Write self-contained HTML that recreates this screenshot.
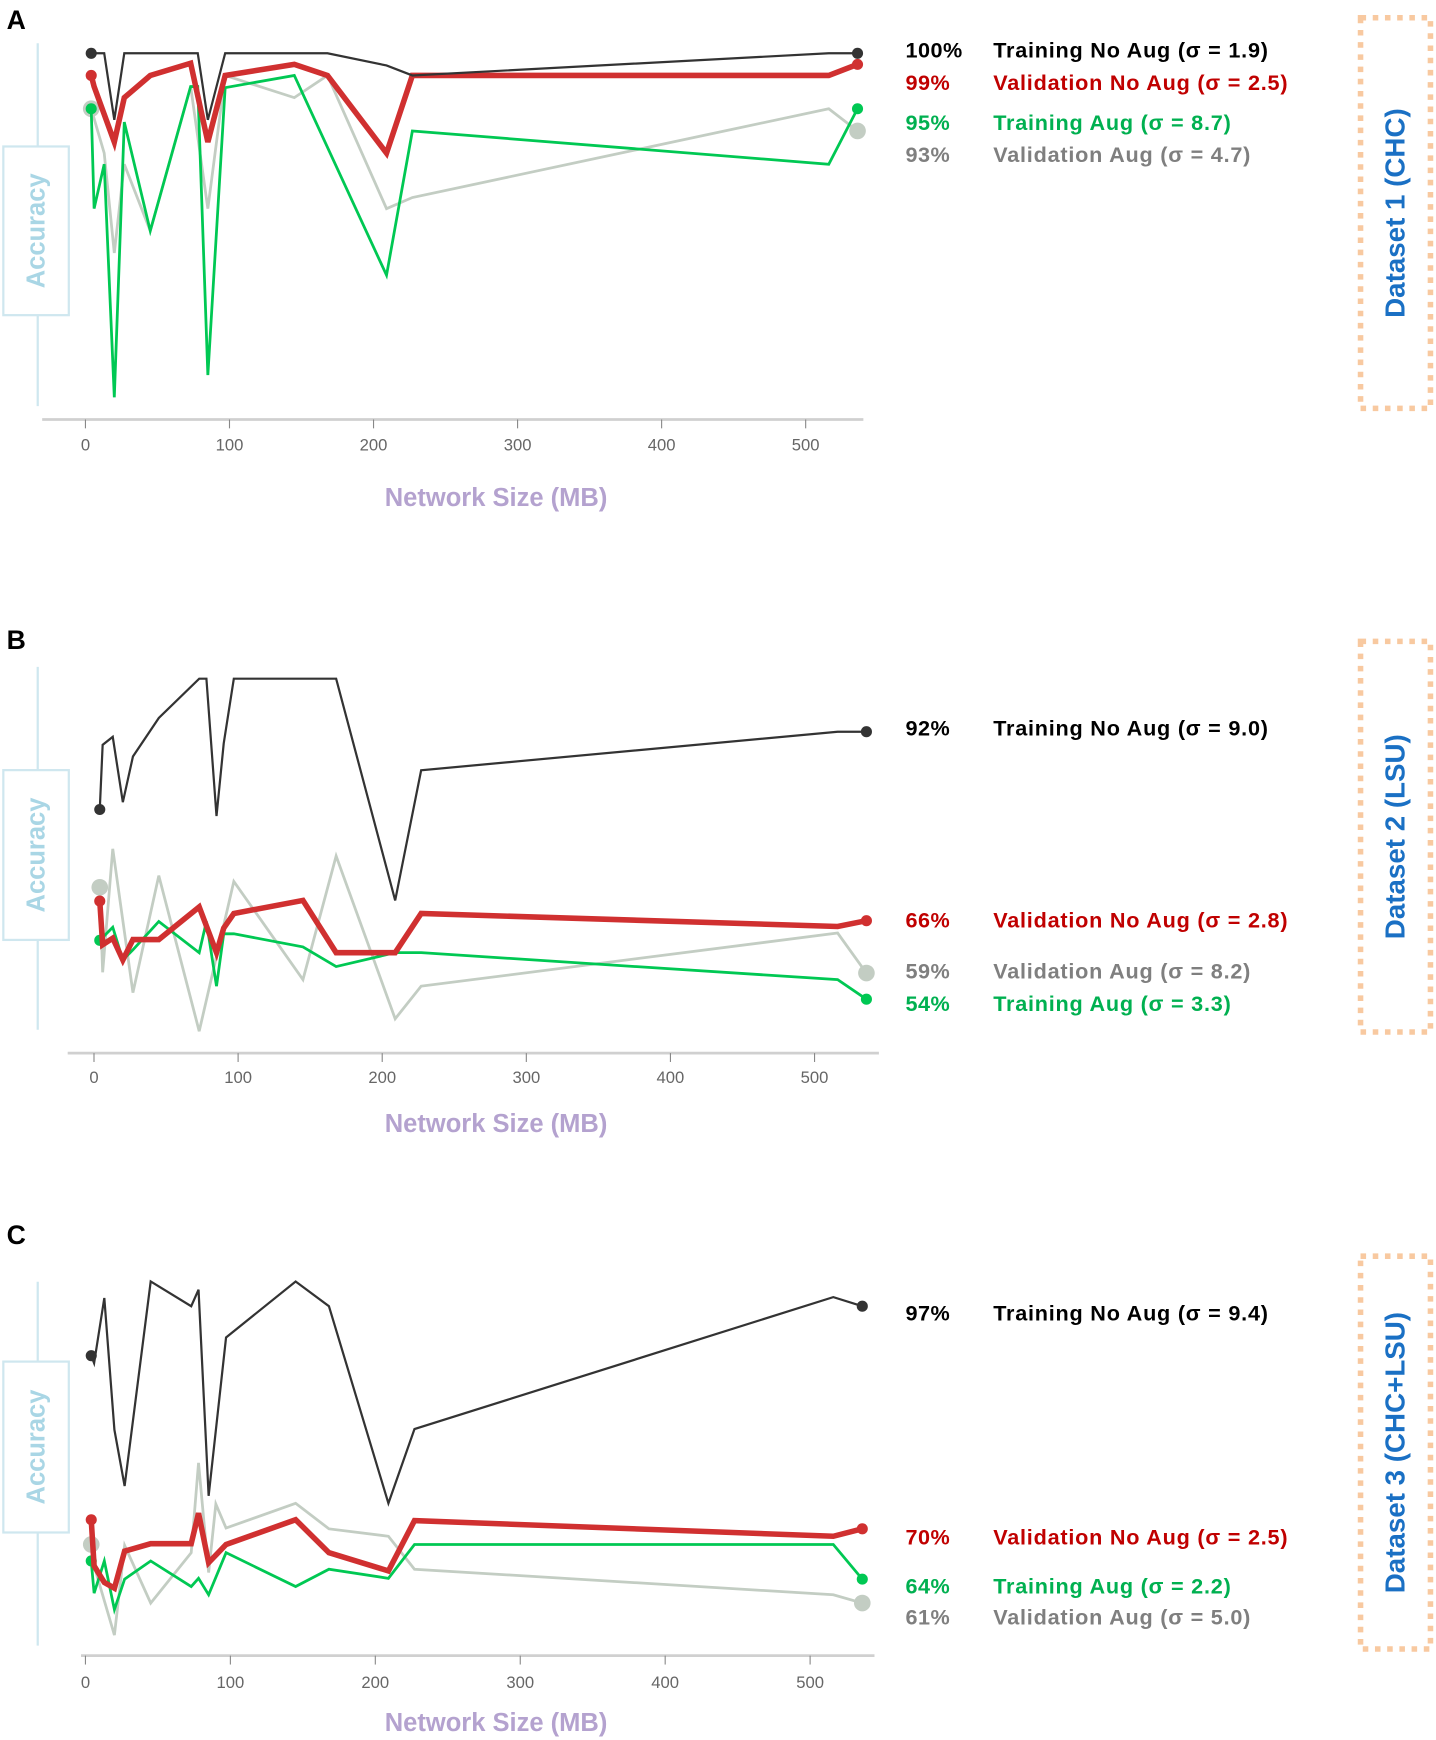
<!DOCTYPE html>
<html><head><meta charset="utf-8"><style>
html,body{margin:0;padding:0;background:#fff;}
svg{display:block;}
text{font-family:"Liberation Sans",sans-serif;}
</style></head><body>
<svg id="fig" width="1436" height="1740" viewBox="0 0 1294 1568" preserveAspectRatio="none" xmlns="http://www.w3.org/2000/svg"></svg>
<script>
// ---- data (MB sizes and accuracy %) ----
const xTicks = [0, 100, 200, 300, 400, 500];
const panelLetters = ["A", "B", "C"];
const datasetNames = ["Dataset 1 (CHC)", "Dataset 2 (LSU)", "Dataset 3 (CHC+LSU)"];
const seriesNames = ["Training No Aug", "Validation No Aug", "Training Aug", "Validation Aug"];
const sigmaA = ["1.9", "2.5", "8.7", "4.7"];
const sigmaB = ["9.0", "2.8", "3.3", "8.2"];
const sigmaC = ["9.4", "2.5", "2.2", "5.0"];
const finalA = [100, 99, 95, 93];
const finalB = [92, 66, 54, 59];
const finalC = [97, 70, 64, 61];

// Panel A
const A_trainNoAug_x = [4, 13, 20, 27, 78, 85, 97, 168, 209, 227, 516, 536];
const A_trainNoAug_y = [100, 100, 94, 100, 100, 94, 100, 100, 98.9, 98, 100, 100];
const A_valNoAug_x = [4, 6, 20, 27, 45, 73, 85, 97, 145, 168, 209, 227, 516, 536];
const A_valNoAug_y = [98, 97, 92, 96, 98, 99.1, 92, 98, 99, 98, 91, 98, 98, 99];
const A_trainAug_x = [4, 6, 13, 20, 27, 45, 73, 78, 85, 97, 145, 209, 227, 516, 536];
const A_trainAug_y = [95, 86, 90, 69, 93.8, 84, 97, 97, 71, 96.9, 98, 80, 93, 90, 95];
const A_valAug_x = [4, 13, 20, 27, 45, 73, 85, 97, 145, 168, 209, 227, 516, 536];
const A_valAug_y = [95, 91, 82, 90, 84, 97, 86, 98, 96, 98, 86, 87, 95, 93];

// Panel B
const B_trainNoAug_x = [4, 6, 13, 20, 27, 45, 73, 78, 85, 90, 97, 168, 209, 227, 516, 536];
const B_trainNoAug_y = [81.3, 90.2, 91.3, 82.3, 88.6, 93.9, 99.3, 99.3, 80.4, 90.4, 99.3, 99.3, 68.8, 86.7, 92, 92];
const B_valNoAug_x = [4, 6, 13, 20, 27, 45, 73, 85, 90, 97, 145, 168, 209, 227, 516, 536];
const B_valNoAug_y = [68.7, 62.7, 63.6, 60.6, 63.4, 63.4, 67.9, 61.6, 65, 67, 68.8, 61.6, 61.6, 67, 65.2, 66];
const B_trainAug_x = [4, 13, 20, 27, 45, 73, 78, 85, 90, 97, 145, 168, 209, 227, 516, 536];
const B_trainAug_y = [63.3, 65.1, 60.6, 62, 65.9, 61.6, 65.9, 57, 64.2, 64.2, 62.4, 59.7, 61.6, 61.6, 57.9, 55.2];
const B_valAug_x = [4, 6, 13, 27, 45, 73, 97, 145, 168, 209, 227, 516, 536];
const B_valAug_y = [70.6, 58.9, 75.9, 56.1, 72.2, 50.8, 71.4, 57.9, 74.9, 52.5, 57, 64.3, 58.8];

// Panel C
const C_trainNoAug_x = [4, 6, 13, 20, 27, 45, 73, 78, 85, 97, 145, 168, 209, 227, 516, 536];
const C_trainNoAug_y = [91, 90.1, 98, 82, 75.2, 100, 97, 99, 74, 93.2, 100, 97, 73.1, 82.1, 98.1, 97];
const C_valNoAug_x = [4, 6, 13, 20, 27, 45, 73, 78, 85, 97, 145, 168, 209, 227, 516, 536];
const C_valNoAug_y = [71.1, 65.5, 63.5, 62.8, 67.3, 68.2, 68.2, 71.9, 65.9, 68.1, 71.1, 67.1, 64.9, 71, 69.1, 70];
const C_trainAug_x = [4, 6, 13, 20, 27, 45, 73, 78, 85, 97, 145, 168, 209, 227, 516, 536];
const C_trainAug_y = [66.1, 62.2, 66.1, 60.2, 63.9, 66.1, 63, 64, 62, 67.1, 63, 65.1, 64, 68.1, 68.1, 63.9];
const C_valAug_x = [4, 6, 20, 27, 45, 73, 78, 85, 90, 97, 145, 168, 209, 227, 516, 536];
const C_valAug_y = [68.1, 65.5, 57.1, 68, 61, 67.1, 78, 64.7, 73, 70.1, 73.1, 70, 69.1, 65.1, 62, 61];

const NS = "http://www.w3.org/2000/svg";
const svg = document.getElementById("fig");
function mk(tag, attrs, parent) {
  const e = document.createElementNS(NS, tag);
  for (const k in attrs) e.setAttribute(k, attrs[k]);
  (parent || svg).appendChild(e);
  return e;
}
const colors = ["#333333", "#d03030", "#00c853", "#c3cdc3"];
const widths = [2, 5, 2.5, 2.5];
const dotR = [5, 5, 5, 7.5];
const legendColors = ["#000000", "#c00000", "#00b050", "#7f7f7f"];

const panels = [
  {x0: 77, k: 1.298, yRef: 48, vRef: 100, ppv: 10, axisY: 378, axL: 38, axR: 778, vTop: 39, vBot: 366, boxT: 132, boxB: 284,
   tickLblY: 406, titleY: 456, letterY: 26, dsT: 16, dsB: 368, legY: [52, 81, 117, 146], sig: sigmaA, fin: finalA,
   series: [[A_trainNoAug_x, A_trainNoAug_y], [A_valNoAug_x, A_valNoAug_y], [A_trainAug_x, A_trainAug_y], [A_valAug_x, A_valAug_y]]},
  {x0: 84.7, k: 1.2986, yRef: 829.7, vRef: 66, ppv: 6.55, axisY: 949, axL: 61, axR: 792, vTop: 601, vBot: 928, boxT: 694, boxB: 847,
   tickLblY: 976, titleY: 1020, letterY: 585, dsT: 578, dsB: 930, legY: [663, 836, 882, 911], sig: sigmaB, fin: finalB,
   series: [[B_trainNoAug_x, B_trainNoAug_y], [B_valNoAug_x, B_valNoAug_y], [B_trainAug_x, B_trainAug_y], [B_valAug_x, B_valAug_y]]},
  {x0: 77, k: 1.306, yRef: 1377.7, vRef: 70, ppv: 7.43, axisY: 1492, axL: 73, axR: 788, vTop: 1155, vBot: 1483, boxT: 1227, boxB: 1381,
   tickLblY: 1521, titleY: 1560, letterY: 1121, dsT: 1132, dsB: 1486, legY: [1190, 1392, 1436, 1464], sig: sigmaC, fin: finalC,
   series: [[C_trainNoAug_x, C_trainNoAug_y], [C_valNoAug_x, C_valNoAug_y], [C_trainAug_x, C_trainAug_y], [C_valAug_x, C_valAug_y]]}
];
const legendOrder = [[0, 1, 2, 3], [0, 1, 3, 2], [0, 1, 2, 3]];

panels.forEach((p, pi) => {
  const g = mk("g", {});
  
  
  const sx = v => p.x0 + v * p.k;
  const sy = v => p.yRef + (p.vRef - v) * p.ppv;

  const lt = mk("text", {x: 6, y: p.letterY, "font-size": 24, "font-weight": "bold", fill: "#000"}, g);
  lt.textContent = panelLetters[pi];
  
  

  const yl = mk("line", {x1: 34, x2: 34, y1: p.vTop, y2: p.vBot, stroke: "#cfe7ef", "stroke-width": 2}, g);
  
  
  const bx = mk("rect", {x: 3, y: p.boxT, width: 59, height: p.boxB - p.boxT, fill: "#fff", stroke: "#cfe7ef", "stroke-width": 2}, g);
  
  
  const cy = (p.boxT + p.boxB) / 2;
  const yt = mk("text", {x: 33, y: cy, transform: `rotate(-90 33 ${cy})`, "text-anchor": "middle", "dominant-baseline": "central", "font-size": 23, "font-weight": "bold", fill: "#a9d6e5"}, g);
  yt.textContent = "Accuracy";
  
  

  const xa = mk("line", {x1: p.axL, x2: p.axR, y1: p.axisY, y2: p.axisY, stroke: "#d0d0d0", "stroke-width": 2.5}, g);
  
  
  xTicks.forEach(t => {
    const tk = mk("line", {x1: sx(t), x2: sx(t), y1: p.axisY, y2: p.axisY + 8, stroke: "#888", "stroke-width": 1}, g);
    
    
    const tl = mk("text", {x: sx(t), y: p.tickLblY, "text-anchor": "middle", "font-size": 15, fill: "#666"}, g);
    tl.textContent = t;
    
    
  });
  const xt = mk("text", {x: 447, y: p.titleY, "text-anchor": "middle", "font-size": 23, "font-weight": "bold", fill: "#b4a2cf"}, g);
  xt.textContent = "Network Size (MB)";
  
  

  [3, 2, 1, 0].forEach(si => {
    const xs = p.series[si][0], ys = p.series[si][1];
    const pts = xs.map((x, i) => sx(x).toFixed(1) + "," + sy(ys[i]).toFixed(1)).join(" ");
    const pl = mk("polyline", {points: pts, fill: "none", stroke: colors[si], "stroke-width": widths[si], "stroke-linejoin": "miter"}, g);
    
    
    [0, xs.length - 1].forEach(i => {
      const c = mk("circle", {cx: sx(xs[i]), cy: sy(ys[i]), r: dotR[si], fill: colors[si]}, g);
      
      
    });
  });

  legendOrder[pi].forEach((si, row) => {
    const y = p.legY[row];
    const t1 = mk("text", {x: 816, y: y, "font-size": 19.5, "font-weight": "bold", fill: legendColors[si], "letter-spacing": "0.4"}, g);
    t1.textContent = p.fin[si] + "%";
    
    
    const t2 = mk("text", {x: 895, y: y, "font-size": 19.5, "font-weight": "bold", fill: legendColors[si], "letter-spacing": "0.7"}, g);
    t2.textContent = seriesNames[si] + " (σ = " + p.sig[si] + ")";
    
    
  });

  const db = mk("rect", {x: 1226, y: p.dsT, width: 63, height: p.dsB - p.dsT, fill: "none", stroke: "#f8c9a0", "stroke-width": 5, "stroke-dasharray": "5 6"}, g);
  
  
  const dcy = (p.dsT + p.dsB) / 2;
  const dt = mk("text", {x: 1257, y: dcy, transform: `rotate(-90 1257 ${dcy})`, "text-anchor": "middle", "dominant-baseline": "central", "font-size": 25, "font-weight": "bold", fill: "#1a70c4"}, g);
  dt.textContent = datasetNames[pi];
  
  
});
</script>
</body></html>
